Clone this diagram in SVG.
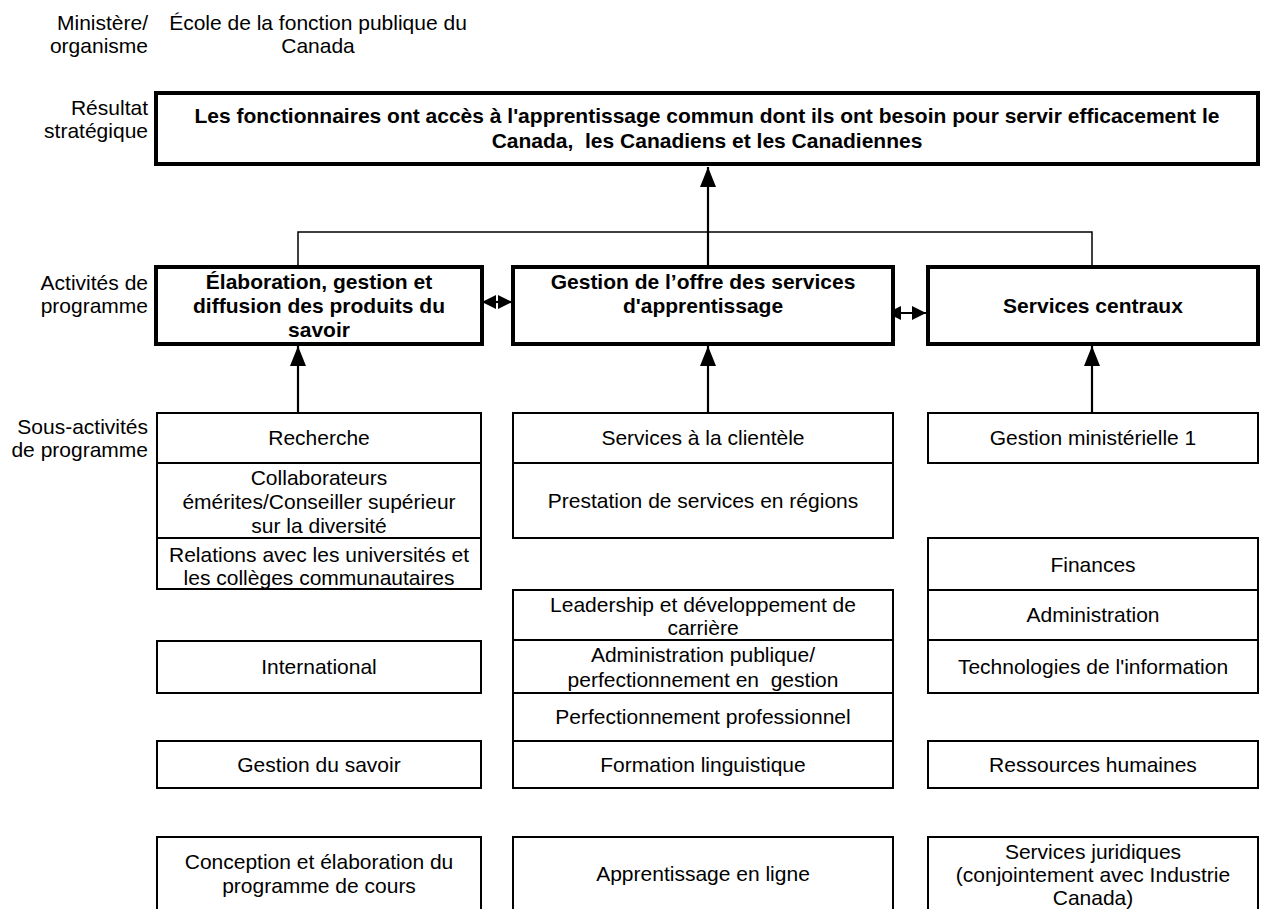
<svg xmlns="http://www.w3.org/2000/svg" width="1262" height="909" viewBox="0 0 1262 909">
<style>
text{font-family:"Liberation Sans",Arial,sans-serif;font-size:21px;fill:#000;white-space:pre}
.b{font-weight:bold}
.c{text-anchor:middle}
.r{text-anchor:end}
.thin{fill:#fff;stroke:#000;stroke-width:2}
.thick{fill:#fff;stroke:#000;stroke-width:4}
.ln{fill:none;stroke:#000;stroke-width:1.5}
.arr{fill:none;stroke:#000;stroke-width:2.2}
</style>
<defs>
<marker id="ah" viewBox="0 0 20 16" refX="20" refY="8" markerWidth="20" markerHeight="16" markerUnits="userSpaceOnUse" orient="auto"><path d="M0,0 L20,8 L0,16 z" fill="#000"/></marker>
<marker id="sh" viewBox="0 0 14 14" refX="14" refY="7" markerWidth="14" markerHeight="14" markerUnits="userSpaceOnUse" orient="auto-start-reverse"><path d="M0,0 L14,7 L0,14 z" fill="#000"/></marker>
</defs>
<rect width="1262" height="909" fill="#fff"/>

<g id="labels">
<text class="r" x="148" y="30">Ministère/</text>
<text class="r" x="148" y="53">organisme</text>
<text class="c" x="318" y="30">École de la fonction publique du</text>
<text class="c" x="318" y="53">Canada</text>
<text class="r" x="148" y="115">Résultat</text>
<text class="r" x="148" y="138">stratégique</text>
<text class="r" x="148" y="290">Activités de</text>
<text class="r" x="148" y="313">programme</text>
<text class="r" x="148" y="434">Sous-activités</text>
<text class="r" x="148" y="457">de programme</text>
</g>

<g id="connectors">
<path class="ln" d="M298,267 V232 H1092 V267"/>
<line class="arr" x1="708" y1="267" x2="708" y2="167" marker-end="url(#ah)"/>
<line class="arr" x1="298" y1="420" x2="298" y2="346" marker-end="url(#ah)"/>
<line class="arr" x1="708" y1="422" x2="708" y2="346" marker-end="url(#ah)"/>
<line class="arr" x1="1092" y1="416" x2="1092" y2="346" marker-end="url(#ah)"/>
<line class="arr" x1="482" y1="302" x2="512" y2="302" marker-start="url(#sh)" marker-end="url(#sh)"/>
<line class="arr" x1="887" y1="313" x2="926" y2="313" marker-start="url(#sh)" marker-end="url(#sh)"/>
</g>

<g id="resultat">
<rect class="thick" x="156" y="93" width="1102" height="71"/>
<text class="b c" x="707" y="123">Les fonctionnaires ont accès à l'apprentissage commun dont ils ont besoin pour servir efficacement le</text>
<text class="b c" x="707" y="148">Canada,  les Canadiens et les Canadiennes</text>
</g>

<g id="activite-elaboration">
<rect class="thick" x="156" y="267" width="326" height="77"/>
<text class="b c" x="319" y="289">Élaboration, gestion et</text>
<text class="b c" x="319" y="313">diffusion des produits du</text>
<text class="b c" x="319" y="337">savoir</text>
</g>
<g id="activite-gestion-offre">
<rect class="thick" x="513" y="267" width="380" height="77"/>
<text class="b c" x="703" y="289">Gestion de l’offre des services</text>
<text class="b c" x="703" y="313">d'apprentissage</text>
</g>
<g id="activite-services-centraux">
<rect class="thick" x="928" y="267" width="330" height="77"/>
<text class="b c" x="1093" y="313">Services centraux</text>
</g>

<!-- left column -->
<g id="recherche">
<rect class="thin" x="157" y="413" width="324" height="50"/>
<text class="c" x="319" y="445">Recherche</text>
</g>
<g id="collaborateurs">
<rect class="thin" x="157" y="463" width="324" height="75"/>
<text class="c" x="319" y="485">Collaborateurs</text>
<text class="c" x="319" y="509">émérites/Conseiller supérieur</text>
<text class="c" x="319" y="533">sur la diversité</text>
</g>
<g id="relations">
<rect class="thin" x="157" y="538" width="324" height="51"/>
<text class="c" x="319" y="562">Relations avec les universités et</text>
<text class="c" x="319" y="585">les collèges communautaires</text>
</g>
<g id="international">
<rect class="thin" x="157" y="641" width="324" height="52"/>
<text class="c" x="319" y="674">International</text>
</g>
<g id="gestion-savoir">
<rect class="thin" x="157" y="741" width="324" height="47"/>
<text class="c" x="319" y="772">Gestion du savoir</text>
</g>
<g id="conception">
<rect class="thin" x="157" y="837" width="324" height="80"/>
<text class="c" x="319" y="869">Conception et élaboration du</text>
<text class="c" x="319" y="893">programme de cours</text>
</g>

<!-- middle column -->
<g id="services-clientele">
<rect class="thin" x="513" y="413" width="380" height="50"/>
<text class="c" x="703" y="445">Services à la clientèle</text>
</g>
<g id="prestation-regions">
<rect class="thin" x="513" y="463" width="380" height="75"/>
<text class="c" x="703" y="508">Prestation de services en régions</text>
</g>
<g id="leadership">
<rect class="thin" x="513" y="590" width="380" height="50"/>
<text class="c" x="703" y="612">Leadership et développement de</text>
<text class="c" x="703" y="635">carrière</text>
</g>
<g id="administration-publique">
<rect class="thin" x="513" y="640" width="380" height="53"/>
<text class="c" x="703" y="662">Administration publique/</text>
<text class="c" x="703" y="687">perfectionnement en  gestion</text>
</g>
<g id="perfectionnement-professionnel">
<rect class="thin" x="513" y="693" width="380" height="48"/>
<text class="c" x="703" y="724">Perfectionnement professionnel</text>
</g>
<g id="formation-linguistique">
<rect class="thin" x="513" y="741" width="380" height="47"/>
<text class="c" x="703" y="772">Formation linguistique</text>
</g>
<g id="apprentissage-ligne">
<rect class="thin" x="513" y="837" width="380" height="80"/>
<text class="c" x="703" y="881">Apprentissage en ligne</text>
</g>

<!-- right column -->
<g id="gestion-ministerielle">
<rect class="thin" x="928" y="413" width="330" height="50"/>
<text class="c" x="1093" y="445">Gestion ministérielle 1</text>
</g>
<g id="finances">
<rect class="thin" x="928" y="538" width="330" height="52"/>
<text class="c" x="1093" y="572">Finances</text>
</g>
<g id="administration">
<rect class="thin" x="928" y="590" width="330" height="50"/>
<text class="c" x="1093" y="622">Administration</text>
</g>
<g id="technologies">
<rect class="thin" x="928" y="640" width="330" height="53"/>
<text class="c" x="1093" y="674">Technologies de l'information</text>
</g>
<g id="ressources-humaines">
<rect class="thin" x="928" y="741" width="330" height="47"/>
<text class="c" x="1093" y="772">Ressources humaines</text>
</g>
<g id="services-juridiques">
<rect class="thin" x="928" y="837" width="330" height="80"/>
<text class="c" x="1093" y="859">Services juridiques</text>
<text class="c" x="1093" y="882">(conjointement avec Industrie</text>
<text class="c" x="1093" y="905">Canada)</text>
</g>
</svg>
